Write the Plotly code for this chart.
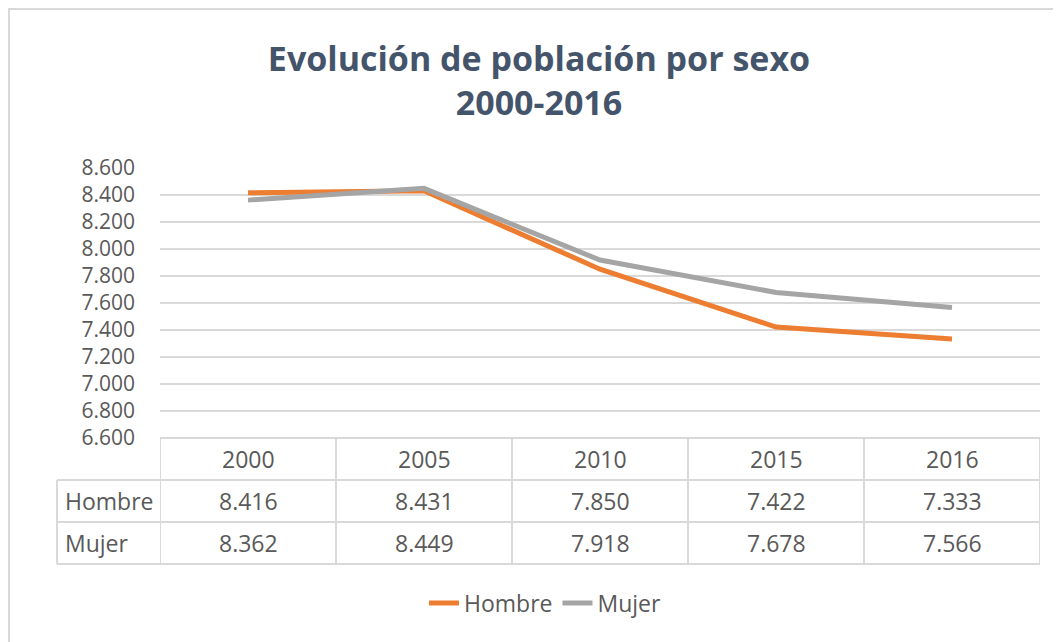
import plotly.graph_objects as go

years = ["2000", "2005", "2010", "2015", "2016"]
hombre = [8416, 8431, 7850, 7422, 7333]
mujer = [8362, 8449, 7918, 7678, 7566]
series_names = ["Hombre", "Mujer"]
colors = ["#ED7D31", "#A5A5A5"]
title_text = "Evolución de población por sexo<br>2000-2016"

OFF = 8  # page body margin
W, H = 1061 - OFF, 642 - OFF
L, R, T, B = 160 - OFF, 1040 - OFF, 168 - OFF, 438 - OFF  # plot area in px
pw, ph = R - L, B - T

def px_x(p):  # p in screenshot pixels
    return (p - OFF - L) / pw

def px_y(p):
    return (B - (p - OFF)) / ph

fig = go.Figure()
for name, vals, col in zip(series_names, [hombre, mujer], colors):
    fig.add_trace(go.Scatter(x=years, y=vals, name=name, mode="lines",
                             line=dict(color=col, width=5)))

grid = "#D9D9D9"
txt = "#595959"
font_fam = "Open Sans, sans-serif"

shapes = []
shapes.append(dict(type="rect", xref="paper", yref="paper",
                   x0=px_x(9), x1=px_x(1080), y0=px_y(660), y1=px_y(9),
                   line=dict(color=grid, width=2), fillcolor="rgba(0,0,0,0)", layer="below"))
row_edges = [438, 480, 522, 564]
for i, yp in enumerate(row_edges):
    x0 = px_x(160) if i == 0 else px_x(57)
    shapes.append(dict(type="line", xref="paper", yref="paper", x0=x0, x1=px_x(1040),
                       y0=px_y(yp), y1=px_y(yp), line=dict(color=grid, width=2), layer="above"))
n = len(years)
for k in range(n + 1):
    xb = -0.5 + k
    shapes.append(dict(type="line", xref="x", yref="paper", x0=xb, x1=xb,
                       y0=px_y(438), y1=px_y(564), line=dict(color=grid, width=2)))
shapes.append(dict(type="line", xref="paper", yref="paper", x0=px_x(57), x1=px_x(57),
                   y0=px_y(480), y1=px_y(564), line=dict(color=grid, width=2)))

annotations = []
row_centers = [459, 501, 543]
fs = 23
for j, yr in enumerate(years):
    annotations.append(dict(x=j, y=px_y(row_centers[0]), xref="x", yref="paper",
                            text=yr, showarrow=False, yanchor="middle",
                            font=dict(size=fs, color=txt, family=font_fam)))
for r, (name, vals) in enumerate(zip(series_names, [hombre, mujer])):
    annotations.append(dict(x=px_x(63), y=px_y(row_centers[r + 1]), xref="paper", yref="paper",
                            text=name, showarrow=False, xanchor="left", yanchor="middle",
                            font=dict(size=fs, color=txt, family=font_fam)))
    for j, v in enumerate(vals):
        label = f"{v:,}".replace(",", ".")
        annotations.append(dict(x=j, y=px_y(row_centers[r + 1]), xref="x", yref="paper",
                                text=label, showarrow=False, yanchor="middle",
                                font=dict(size=fs, color=txt, family=font_fam)))

fig.update_layout(
    width=W, height=H,
    margin=dict(l=L, r=W - R, t=T, b=H - B, autoexpand=False),
    paper_bgcolor="white", plot_bgcolor="white",
    separators=",.",
    title=dict(text=title_text, x=(539 - OFF) / W, xanchor="center",
               y=1 - 63 / H, yanchor="top",
               font=dict(size=34, color="#44546A", family="Open Sans, sans-serif", weight="bold")),
    xaxis=dict(type="category", range=[-0.5, n - 0.5], showticklabels=False,
               showgrid=False, zeroline=False, showline=False, fixedrange=True),
    yaxis=dict(range=[6600, 8600], dtick=200, tickformat=",d", showgrid=True,
               gridcolor=grid, gridwidth=2, zeroline=False, showline=False,
               ticklabelstandoff=24,
               tickfont=dict(size=21, color=txt, family=font_fam)),
    legend=dict(orientation="h", x=(545 - OFF) / W, xanchor="center", xref="container",
                y=px_y(603), yanchor="middle",
                font=dict(size=23, color=txt, family=font_fam)),
    shapes=shapes, annotations=annotations,
)

fig.write_html("out.html")
